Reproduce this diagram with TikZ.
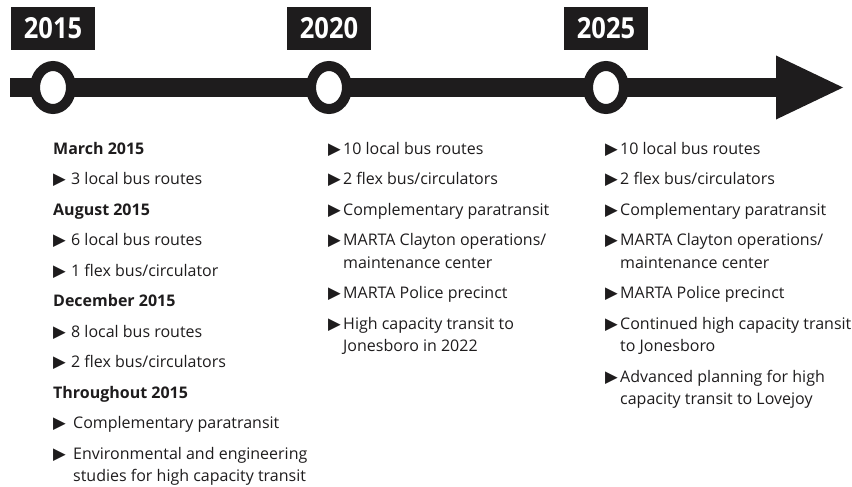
\documentclass[tikz,border=0pt]{standalone}
\usepackage{fontspec}
\setmainfont{Open Sans}
\newfontfamily\yearfont{Open Sans}[FakeStretch=0.88]
\newfontfamily\symfont{DejaVu Sans}
\usepackage{tikz}
\usetikzlibrary{
  arrows.meta,
  positioning,
  shapes.geometric
}
\definecolor{inkblack}{RGB}{30,28,29}

% bullet glyph with a fixed slot width
\newcommand{\bul}[1][15pt]{\makebox[#1][l]{\symfont\fontsize{16.5}{16.5}\selectfont ▶}}

\begin{document}
\begin{tikzpicture}[
    x=1pt, y=-1pt,
    yearbox/.style={fill=inkblack, text=white, minimum width=84pt, minimum height=43pt, inner sep=0pt, font=\yearfont\bfseries\fontsize{29}{29}\selectfont},
    stopring/.style={ellipse, draw=inkblack, line width=10pt, fill=white, minimum width=36pt, minimum height=43pt, inner sep=0pt},
    item/.style={anchor=base west, inner sep=0pt, align=left, text=inkblack, font=\fontsize{16}{22.5}\selectfont},
    heading/.style={item, font=\bfseries\fontsize{16}{22.5}\selectfont},
]
\useasboundingbox (0,0) rectangle (852,487);

% === Timeline bar ===
\coordinate (barstart) at (10,87.5);
\coordinate (bartip) at (843,87.5);
\draw[inkblack, line width=19pt, -{Triangle[length=67pt, width=64pt, line width=0pt]}] (barstart) -- (bartip);

% === Stops and years ===
\node[stopring] (stop15) at (53,87.5) {};
\node[stopring] (stop20) at (329,87.5) {};
\node[stopring] (stop25) at (606,87.5) {};

\node[yearbox, above=11pt of stop15] (year15) {2015};
\node[yearbox, above=11pt of stop20] (year20) {2020};
\node[yearbox, above=11pt of stop25] (year25) {2025};

% === 2015 column (two-line items sit on their last baseline) ===
\node[heading] (mar) at (53,154) {March 2015};
\node[item] (mar1) at (53,184.5) {\bul[18pt]3 local bus routes};
\node[heading] (aug) at (53,215) {August 2015};
\node[item] (aug1) at (53,245.5) {\bul[18pt]6 local bus routes};
\node[item] (aug2) at (53,276) {\bul[18pt]1 flex bus/circulator};
\node[heading] (dec) at (53,306.5) {December 2015};
\node[item] (dec1) at (53,337) {\bul[18pt]8 local bus routes};
\node[item] (dec2) at (53,367.5) {\bul[18pt]2 flex bus/circulators};
\node[heading] (thr) at (53,398) {Throughout 2015};
\node[item] (thr1) at (53,428.5) {\bul[20pt]Complementary paratransit};
\node[item] (thr2) at (53,481.5) {\bul[20pt]Environmental and engineering\\\hspace*{20pt}studies for high capacity transit};

% === 2020 column ===
\node[item] (m20a) at (328,154) {\bul 10 local bus routes};
\node[item] (m20b) at (328,184.5) {\bul 2 flex bus/circulators};
\node[item] (m20c) at (328,215) {\bul Complementary paratransit};
\node[item] (m20d) at (328,268) {\bul MARTA Clayton operations/\\\hspace*{15pt}maintenance center};
\node[item] (m20e) at (328,298.5) {\bul MARTA Police precinct};
\node[item] (m20f) at (328,351.5) {\bul High capacity transit to\\\hspace*{15pt}Jonesboro in 2022};

% === 2025 column ===
\node[item] (m25a) at (605,154) {\bul 10 local bus routes};
\node[item] (m25b) at (605,184.5) {\bul 2 flex bus/circulators};
\node[item] (m25c) at (605,215) {\bul Complementary paratransit};
\node[item] (m25d) at (605,268) {\bul MARTA Clayton operations/\\\hspace*{15pt}maintenance center};
\node[item] (m25e) at (605,298.5) {\bul MARTA Police precinct};
\node[item] (m25f) at (605,351.5) {\bul Continued high capacity transit\\\hspace*{15pt}to Jonesboro};
\node[item] (m25g) at (605,404.5) {\bul Advanced planning for high\\\hspace*{15pt}capacity transit to Lovejoy};

\end{tikzpicture}
\end{document}
